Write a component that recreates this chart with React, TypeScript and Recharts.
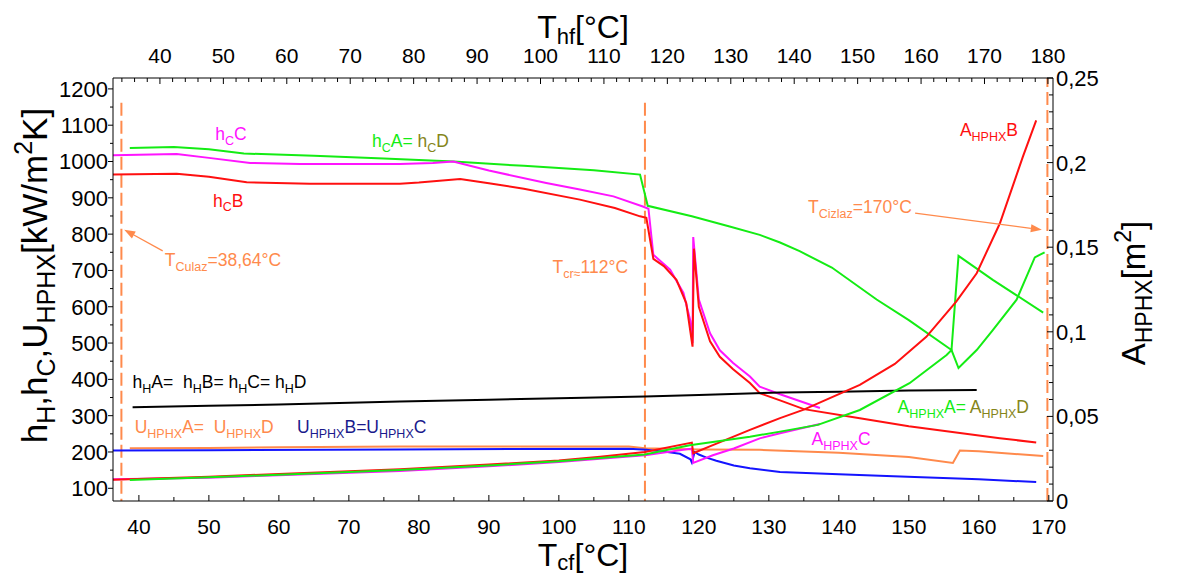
import React from "react";
import {
  ComposedChart,
  Line,
  XAxis,
  YAxis,
  ReferenceLine,
  ReferenceDot,
} from "recharts";

// ---- values: [Tcf, value] ----
// left axis: h and U [kW/m2K]
const hC_A: number[][] = [
  [38.7, 1037], [45, 1040], [50, 1034], [55, 1022], [65, 1016], [75, 1008],
  [85, 1000], [95, 988], [105, 976], [111.6, 964], [112.7, 878], [119, 849],
  [124.4, 821], [128.7, 798], [131.6, 777], [134.4, 753], [139, 708],
  [145.4, 620], [150, 563], [156.1, 481], [157.1, 740], [162, 674],
  [169.2, 584],
];
const hC_B: number[][] = [
  [36.3, 964], [45.4, 966], [50, 958], [55.4, 943], [64.4, 939], [77.3, 939],
  [80, 942], [85.9, 952], [90, 940], [95, 925], [103, 895], [108, 872],
  [111.6, 849], [112.5, 845], [113.5, 732], [115, 712], [116.8, 674],
  [118.2, 610], [119.1, 490], [119.3, 760], [120, 600], [121.6, 505],
  [123, 462], [124.9, 428], [127.3, 390], [128.7, 362], [131.6, 342],
  [135, 318], [143, 293], [150, 271], [157.3, 252], [163, 238], [168.2, 226],
];
const hC_C: number[][] = [
  [36.3, 1017], [45.4, 1021], [50, 1010], [55.9, 996], [63, 993], [77.3, 993],
  [82, 996], [84.9, 1000], [90, 975], [98.2, 941], [103, 923], [107.8, 904],
  [112, 876], [112.8, 870], [113.5, 743], [115.9, 702], [117.8, 638],
  [118.8, 560], [119.1, 500], [119.2, 792], [120, 620], [121.6, 527],
  [123, 480], [124.9, 445], [127.3, 408], [128.7, 380], [131.6, 359],
  [137.3, 321],
];
const hH: number[][] = [
  [39.1, 323], [50, 327], [60, 331], [77.3, 339], [90, 344], [100, 348],
  [112.3, 353], [120, 357], [131.6, 364], [140, 366], [150, 369], [159.7, 371],
];
const U_AD: number[][] = [
  [38.7, 210], [50, 211], [60, 213], [77.3, 215], [110, 215], [112.3, 210],
  [120, 207], [128.7, 206], [140, 198], [150, 186], [156.3, 170],
  [157.3, 204], [160, 202], [169.2, 189],
];
const U_BC: number[][] = [
  [36.3, 204], [50, 205], [77.3, 207], [110, 209], [112.5, 206], [115, 201],
  [117.3, 195], [118.8, 180], [119, 171], [119.4, 200], [120, 193],
  [121, 185], [122.5, 176], [125, 163], [127.3, 155], [131.6, 145],
  [140, 139], [147.8, 133], [160, 125], [168.2, 117],
];
// right axis: A_HPHX [m2]
const A_A: number[][] = [
  [38.7, 0.0124], [50, 0.014], [60, 0.0155], [77.3, 0.0183], [90, 0.021],
  [100, 0.0235], [112.3, 0.0275], [118.7, 0.033], [127.3, 0.038],
  [131.6, 0.041], [137, 0.045], [143, 0.0538], [150.1, 0.0696],
  [155.4, 0.0863], [156.1, 0.0892], [157.1, 0.0786], [159.7, 0.0892],
  [162, 0.101], [165.4, 0.119], [168, 0.144], [169.4, 0.147],
];
const A_B: number[][] = [
  [36.3, 0.0125], [50, 0.0143], [60, 0.016], [77.3, 0.0187], [90, 0.0215],
  [100, 0.024], [105.9, 0.0262], [112.3, 0.029], [119, 0.0345],
  [119.2, 0.0282], [122, 0.033], [127.3, 0.042], [131.6, 0.049],
  [135, 0.054], [143, 0.0686], [148, 0.081], [152.5, 0.097], [156.8, 0.118],
  [159.7, 0.1346], [163, 0.164], [166.3, 0.2035], [168.2, 0.225],
];
const A_C: number[][] = [
  [36.3, 0.0128], [50, 0.0138], [60, 0.0152], [77.3, 0.0178], [90, 0.0205],
  [100, 0.023], [105.9, 0.025], [112.3, 0.027], [119, 0.031],
  [119.2, 0.0225], [122, 0.027], [125, 0.031], [128.7, 0.037],
  [131.6, 0.04], [137.3, 0.0455],
];

// axis ticks
const bottomTicks = Array.from({ length: 27 }, (_, i) => 40 + 5 * i);
const topTicks = Array.from({ length: 74 }, (_, i) => 34 + 2 * i);
const leftTicks = Array.from({ length: 23 }, (_, i) => 100 + 50 * i);
const rightTicks = Array.from({ length: 26 }, (_, i) => i / 100);

// reference temperatures
const T_culaz = 37.5;
const T_cr = 112.3;
const T_cizlaz = 169.8;

const GREEN = "#14ec14";
const RED = "#ff1010";
const MAG = "#ff14ff";
const BLUE = "#1414ff";
const ORANGE = "#ff8a4c";
const OLIVE = "#85851a";
const NAVY = "#1a1a8c";
const FONT = "'Liberation Sans', Arial, Helvetica, sans-serif";

const pts = (a: number[][]) => a.map(([t, v]) => ({ t, v }));

type Part = [string, string, ("sub" | "sup")?];

const Rich = ({ parts, size, small, sub = 0.28 }: { parts: Part[]; size: number; small: number; sub?: number }) => {
  let shift = 0;
  return (
    <>
      {parts.map(([s, c, k], i) => {
        const target = k === "sub" ? size * sub : k === "sup" ? -size * 0.42 : 0;
        const dy = target - shift;
        shift = target;
        return (
          <tspan key={i} dy={dy} fill={c} fontSize={k ? small : size}>
            {s}
          </tspan>
        );
      })}
    </>
  );
};

const notes: { t: number; v: number; parts: Part[] }[] = [
  { t: 50.9, v: 1060, parts: [["h", MAG], ["C", MAG, "sub"], ["C", MAG]] },
  { t: 50.6, v: 876, parts: [["h", RED], ["C", RED, "sub"], ["B", RED]] },
  {
    t: 73.3, v: 1041,
    parts: [["h", GREEN], ["C", GREEN, "sub"], ["A=", GREEN], [" h", OLIVE], ["C", OLIVE, "sub"], ["D", OLIVE]],
  },
  { t: 43.7, v: 711, parts: [["T", ORANGE], ["Culaz", ORANGE, "sub"], ["=38,64°C", ORANGE]] },
  { t: 99.1, v: 693, parts: [["T", ORANGE], ["cr≈", ORANGE, "sub"], ["112°C", ORANGE]] },
  { t: 135.6, v: 857, parts: [["T", ORANGE], ["Cizlaz", ORANGE, "sub"], ["=170°C", ORANGE]] },
  { t: 157.3, v: 1071, parts: [["A", RED], ["HPHX", RED, "sub"], ["B", RED]] },
  {
    t: 148.4, v: 308,
    parts: [["A", GREEN], ["HPHX", GREEN, "sub"], ["A=", GREEN], [" A", OLIVE], ["HPHX", OLIVE, "sub"], ["D", OLIVE]],
  },
  { t: 136.1, v: 219, parts: [["A", MAG], ["HPHX", MAG, "sub"], ["C", MAG]] },
  {
    t: 39.1, v: 377,
    parts: [["h", "#000"], ["H", "#000", "sub"], ["A=  h", "#000"], ["H", "#000", "sub"], ["B= h", "#000"], ["H", "#000", "sub"], ["C= h", "#000"], ["H", "#000", "sub"], ["D", "#000"]],
  },
  {
    t: 39.4, v: 252,
    parts: [["U", ORANGE], ["HPHX", ORANGE, "sub"], ["A=  U", ORANGE], ["HPHX", ORANGE, "sub"], ["D", ORANGE]],
  },
  {
    t: 62.6, v: 252,
    parts: [["U", NAVY], ["HPHX", NAVY, "sub"], ["B=U", NAVY], ["HPHX", NAVY, "sub"], ["C", NAVY]],
  },
];

const BottomTick = ({ x, y, payload }: any) => {
  const major = payload.value % 10 === 0;
  return (
    <g>
      <line x1={x} y1={y} x2={x} y2={y - (major ? 6 : 4)} stroke="#000" />
      {major && (
        <text x={x} y={y + 33} textAnchor="middle" fontSize={21} fill="#000">
          {payload.value}
        </text>
      )}
    </g>
  );
};

const TopTick = ({ x, y, payload }: any) => {
  const major = payload.value % 10 === 0;
  return (
    <g>
      <line x1={x} y1={y} x2={x} y2={y + (major ? 6 : 4)} stroke="#000" />
      {major && (
        <text x={x} y={y - 15} textAnchor="middle" fontSize={21} fill="#000">
          {payload.value}
        </text>
      )}
    </g>
  );
};

const LeftTick = ({ x, y, payload }: any) => {
  const major = payload.value % 100 === 0;
  return (
    <g>
      <line x1={x} y1={y} x2={x - (major ? 5 : 3)} y2={y} stroke="#000" />
      {major && (
        <text x={x - 5} y={y} dy="0.36em" textAnchor="end" fontSize={22} fill="#000">
          {payload.value}
        </text>
      )}
    </g>
  );
};

const RightTick = ({ x, y, payload }: any) => {
  const k = Math.round(payload.value * 100);
  const major = k % 5 === 0;
  const label = k === 0 ? "0" : String(k / 100).replace(".", ",");
  return (
    <g>
      <line x1={x} y1={y} x2={x - (major ? 6 : 4)} y2={y} stroke="#000" />
      {major && (
        <text x={x + 3} y={y} dy="0.36em" textAnchor="start" fontSize={22} fill="#000">
          {label}
        </text>
      )}
    </g>
  );
};

const Arrow = (p: any) => {
  const { x1, y1, x2, y2 } = p;
  const a = Math.atan2(y2 - y1, x2 - x1);
  const bx = x2 - 11 * Math.cos(a);
  const by = y2 - 11 * Math.sin(a);
  const px = -Math.sin(a) * 4;
  const py = Math.cos(a) * 4;
  return (
    <g>
      <line x1={x1} y1={y1} x2={bx} y2={by} stroke={ORANGE} strokeWidth={1.3} />
      <polygon points={`${x2},${y2} ${bx + px},${by + py} ${bx - px},${by - py}`} fill={ORANGE} />
    </g>
  );
};

const titleStyle = { whiteSpace: "pre" as const };

const BottomTitle = (props: any) => {
  const vb = props.viewBox ?? { x: 113, y: 501, width: 940, height: 73 };
  return (
    <text x={vb.x + vb.width / 2} y={vb.y + 65} textAnchor="middle" fill="#000" style={titleStyle}>
      <Rich size={32} small={22} sub={0.12} parts={[["T", "#000"], ["cf", "#000", "sub"], ["[°C]", "#000"]]} />
    </text>
  );
};

const TopTitle = (props: any) => {
  const vb = props.viewBox ?? { x: 113, y: 0, width: 940, height: 78 };
  return (
    <text x={vb.x + vb.width / 2} y={vb.y + 38} textAnchor="middle" fill="#000" style={titleStyle}>
      <Rich size={32} small={22} sub={0.18} parts={[["T", "#000"], ["hf", "#000", "sub"], ["[°C]", "#000"]]} />
    </text>
  );
};

const LeftTitle = (props: any) => {
  const vb = props.viewBox ?? { x: 0, y: 78, width: 113, height: 423 };
  const cx = vb.x + 47;
  const cy = vb.y + vb.height / 2 - 14;
  return (
    <text x={cx} y={cy} textAnchor="middle" fill="#000" transform={`rotate(-90 ${cx} ${cy})`} style={titleStyle}>
      <Rich
        size={35}
        small={25}
        sub={0.22}
        parts={[
          ["h", "#000"], ["H", "#000", "sub"], [",h", "#000"], ["C", "#000", "sub"],
          [",U", "#000"], ["HPHX", "#000", "sub"], ["[kW/m", "#000"], ["2", "#000", "sup"], ["K]", "#000"],
        ]}
      />
    </text>
  );
};

const RightTitle = (props: any) => {
  const vb = props.viewBox ?? { x: 1053, y: 78, width: 125, height: 423 };
  const cx = vb.x + 92;
  const cy = vb.y + 215;
  return (
    <text x={cx} y={cy} textAnchor="middle" fill="#000" transform={`rotate(-90 ${cx} ${cy})`} style={titleStyle}>
      <Rich
        size={33}
        small={23}
        sub={0.22}
        parts={[["A", "#000"], ["HPHX", "#000", "sub"], ["[m", "#000"], ["2", "#000", "sup"], ["]", "#000"]]}
      />
    </text>
  );
};

const series = [
  { key: "hCA", data: hC_A, color: GREEN, axis: "left" },
  { key: "hCC", data: hC_C, color: MAG, axis: "left" },
  { key: "hCB", data: hC_B, color: RED, axis: "left" },
  { key: "hH", data: hH, color: "#000", axis: "left" },
  { key: "UAD", data: U_AD, color: ORANGE, axis: "left" },
  { key: "UBC", data: U_BC, color: BLUE, axis: "left" },
  { key: "AC", data: A_C, color: MAG, axis: "right" },
  { key: "AB", data: A_B, color: RED, axis: "right" },
  { key: "AA", data: A_A, color: GREEN, axis: "right" },
];

// empty carrier so the Thf axis gets a scale (no values drawn)
const thfCarrier = topTicks.map((t) => ({ t, v: null }));

export default function App() {
  return (
    <div style={{ position: "absolute", left: 0, top: 0, width: 1178, height: 574, background: "#fff", fontFamily: FONT }}>
      <ComposedChart width={1178} height={574} margin={{ top: 0, right: 0, bottom: 0, left: 0 }}>
        <XAxis
          xAxisId="bottom"
          dataKey="t"
          type="number"
          domain={[36.3, 170.6]}
          allowDataOverflow
          ticks={bottomTicks}
          interval={0}
          height={73}
          tickSize={0}
          tickMargin={0}
          tickLine={false}
          axisLine={{ stroke: "#000" }}
          tick={<BottomTick />}
          label={{ content: (p: any) => <BottomTitle {...p} /> }}
        />
        <XAxis
          xAxisId="top"
          dataKey="t"
          orientation="top"
          type="number"
          domain={[32.6, 180.8]}
          allowDataOverflow
          ticks={topTicks}
          interval={0}
          height={78}
          tickSize={0}
          tickMargin={0}
          tickLine={false}
          axisLine={{ stroke: "#000" }}
          tick={<TopTick />}
          label={{ content: (p: any) => <TopTitle {...p} /> }}
        />
        <YAxis
          yAxisId="left"
          type="number"
          domain={[65, 1230]}
          allowDataOverflow
          ticks={leftTicks}
          interval={0}
          width={113}
          tickSize={0}
          tickMargin={0}
          tickLine={false}
          axisLine={{ stroke: "#000" }}
          tick={<LeftTick />}
          label={{ content: (p: any) => <LeftTitle {...p} /> }}
        />
        <YAxis
          yAxisId="right"
          orientation="right"
          type="number"
          domain={[0, 0.25]}
          allowDataOverflow
          ticks={rightTicks}
          interval={0}
          width={125}
          tickSize={0}
          tickMargin={0}
          tickLine={false}
          axisLine={{ stroke: "#000" }}
          tick={<RightTick />}
          label={{ content: (p: any) => <RightTitle {...p} /> }}
        />

        <Line
          data={thfCarrier}
          dataKey="v"
          xAxisId="top"
          yAxisId="left"
          stroke="none"
          dot={false}
          activeDot={false}
          isAnimationActive={false}
        />

        <ReferenceLine
          xAxisId="bottom"
          yAxisId="left"
          segment={[{ x: T_culaz, y: 1162 }, { x: T_culaz, y: 65 }]}
          stroke={ORANGE}
          strokeWidth={2}
          strokeDasharray="13 5"
        />
        <ReferenceLine
          xAxisId="bottom"
          yAxisId="left"
          segment={[{ x: T_cr, y: 1162 }, { x: T_cr, y: 65 }]}
          stroke={ORANGE}
          strokeWidth={2}
          strokeDasharray="13 5"
        />
        <ReferenceLine
          xAxisId="bottom"
          yAxisId="left"
          x={T_cizlaz}
          stroke={ORANGE}
          strokeWidth={2}
          strokeDasharray="13 5"
        />

        {series.map((s) => (
          <Line
            key={s.key}
            data={pts(s.data)}
            dataKey="v"
            xAxisId="bottom"
            yAxisId={s.axis}
            type="linear"
            stroke={s.color}
            strokeWidth={2}
            dot={false}
            activeDot={false}
            isAnimationActive={false}
          />
        ))}

        <ReferenceLine
          xAxisId="bottom"
          yAxisId="left"
          segment={[{ x: 43.4, y: 754 }, { x: 37.9, y: 812 }]}
          shape={(p: any) => <Arrow {...p} />}
        />
        <ReferenceLine
          xAxisId="bottom"
          yAxisId="left"
          segment={[{ x: 150.9, y: 858 }, { x: 169, y: 812 }]}
          shape={(p: any) => <Arrow {...p} />}
        />

        {notes.map((n, i) => (
          <ReferenceDot
            key={i}
            xAxisId="bottom"
            yAxisId="left"
            x={n.t}
            y={n.v}
            r={0}
            shape={(p: any) => (
              <text x={p.cx} y={p.cy} style={titleStyle}>
                <Rich parts={n.parts} size={17.5} small={12.5} />
              </text>
            )}
          />
        ))}
      </ComposedChart>
    </div>
  );
}
